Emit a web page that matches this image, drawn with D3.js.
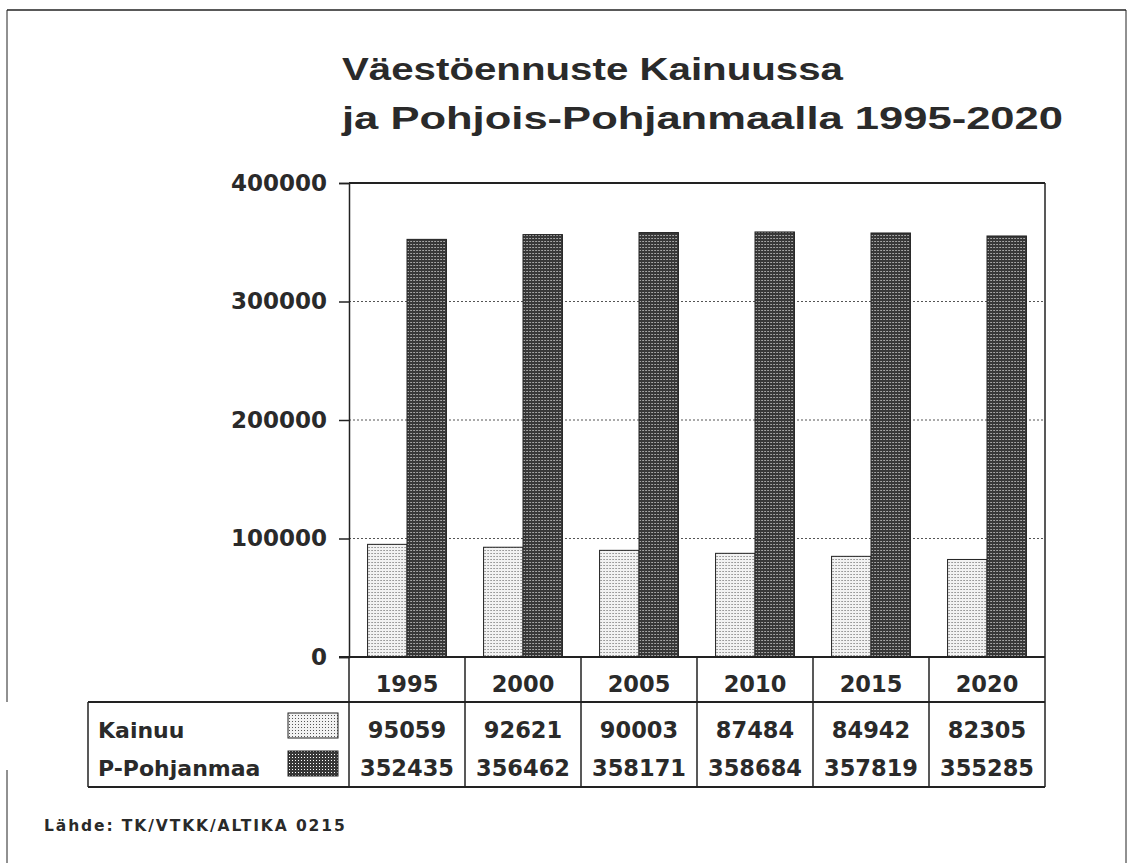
<!DOCTYPE html>
<html>
<head>
<meta charset="utf-8">
<script src="https://cdn.jsdelivr.net/npm/d3@7"></script>
<style>
  body { margin: 0; background: #fff; }
  svg text { fill: #2a2a2a; }
</style>
</head>
<body>
<svg id="chart" width="1128" height="863"></svg>
<script>
// data
const years = ['1995', '2000', '2005', '2010', '2015', '2020']
const kainuu = [95059, 92621, 90003, 87484, 84942, 82305]
const pohjanmaa = [352435, 356462, 358171, 358684, 357819, 355285]
const seriesNames = ['Kainuu', 'P-Pohjanmaa']
const yTicks = [0, 100000, 200000, 300000, 400000]
const titleLines = ['Väestöennuste Kainuussa', 'ja Pohjois-Pohjanmaalla 1995-2020']
const source = 'Lähde: TK/VTKK/ALTIKA 0215'

const svg = d3.select('#chart')
const ink = '#222'
const numFont = 'DejaVu Sans'

// fill patterns for the two series
const defs = svg.append('defs')
const light = defs.append('pattern').attr('id', 'pat-light')
  .attr('width', 3).attr('height', 3).attr('patternUnits', 'userSpaceOnUse')
light.append('rect').attr('width', 3).attr('height', 3).attr('fill', '#f2f2f2')
light.append('rect').attr('x', 1).attr('y', 1).attr('width', 1).attr('height', 1).attr('fill', '#555')
const dark = defs.append('pattern').attr('id', 'pat-dark')
  .attr('width', 3).attr('height', 3).attr('patternUnits', 'userSpaceOnUse')
dark.append('rect').attr('width', 3).attr('height', 3).attr('fill', '#383838')
dark.append('rect').attr('x', 1).attr('y', 1).attr('width', 1).attr('height', 1).attr('fill', '#fff')
const fills = ['url(#pat-light)', 'url(#pat-dark)']

// page frame (scanned sheet edges)
svg.append('line').attr('x1', 7).attr('x2', 1126).attr('y1', 10).attr('y2', 10)
  .attr('stroke', ink).attr('stroke-width', 1.5)
svg.append('line').attr('x1', 7).attr('x2', 7).attr('y1', 10).attr('y2', 702)
  .attr('stroke', ink).attr('stroke-width', 1)
svg.append('line').attr('x1', 7).attr('x2', 7).attr('y1', 770).attr('y2', 863)
  .attr('stroke', ink).attr('stroke-width', 1)
svg.append('line').attr('x1', 1126).attr('x2', 1126).attr('y1', 10).attr('y2', 863)
  .attr('stroke', ink).attr('stroke-width', 1)

// title
const titleWidths = [501, 721]
svg.selectAll('text.title')
  .data(titleLines)
  .enter()
  .append('text')
  .attr('class', 'title')
  .attr('x', 342)
  .attr('y', (d, i) => 80 + i * 49)
  .attr('textLength', (d, i) => titleWidths[i])
  .attr('lengthAdjust', 'spacingAndGlyphs')
  .style('font-family', 'Liberation Sans')
  .style('font-weight', 'bold')
  .style('font-size', '32px')
  .text(d => d)

// scales
const plotLeft = 349
const plotRight = 1045
const plotTop = 183
const plotBottom = 657

const x0 = d3.scaleBand().domain(years).range([plotLeft, plotRight])
  .paddingInner(0.32).paddingOuter(0.16)
const x1 = d3.scaleBand().domain(seriesNames).range([0, x0.bandwidth()])
const y = d3.scaleLinear().domain([0, 400000]).range([plotBottom, plotTop])

// grid lines
svg.append('g')
  .selectAll('line')
  .data(yTicks.filter(d => d > 0 && d < 400000))
  .enter()
  .append('line')
  .attr('x1', plotLeft).attr('x2', plotRight)
  .attr('y1', d => y(d)).attr('y2', d => y(d))
  .attr('stroke', '#555')
  .attr('stroke-dasharray', '2,2')

// bars
const rows = years.map((yr, i) => ({ year: yr, values: [kainuu[i], pohjanmaa[i]] }))
svg.append('g')
  .selectAll('g')
  .data(rows)
  .enter()
  .append('g')
  .attr('transform', d => `translate(${x0(d.year)},0)`)
  .selectAll('rect')
  .data(d => d.values.map((v, k) => ({ key: seriesNames[k], k: k, value: v })))
  .enter()
  .append('rect')
  .attr('x', d => x1(d.key))
  .attr('width', x1.bandwidth())
  .attr('y', d => y(d.value))
  .attr('height', d => y(0) - y(d.value))
  .attr('fill', d => fills[d.k])
  .attr('stroke', ink)
  .attr('stroke-width', 1)

// y axis
const yAxis = d3.axisLeft(y).tickValues(yTicks).tickSize(10).tickPadding(12).tickFormat(d3.format('d'))
const ya = svg.append('g').attr('transform', `translate(${plotLeft},0)`).call(yAxis)
ya.select('.domain').attr('stroke', ink).attr('stroke-width', 1.5)
ya.selectAll('.tick line').attr('stroke', ink).attr('stroke-width', 1.5)
ya.selectAll('.tick text')
  .style('font-family', numFont)
  .style('font-weight', 'bold')
  .style('font-size', '23px')
  .attr('fill', '#2a2a2a')

// plot frame: top and right
svg.append('line').attr('x1', plotLeft).attr('x2', plotRight).attr('y1', plotTop).attr('y2', plotTop)
  .attr('stroke', ink).attr('stroke-width', 2)
svg.append('line').attr('x1', plotRight).attr('x2', plotRight).attr('y1', plotTop).attr('y2', 787)
  .attr('stroke', ink).attr('stroke-width', 1.5)
// baseline
svg.append('line').attr('x1', plotLeft - 10).attr('x2', plotRight).attr('y1', plotBottom).attr('y2', plotBottom)
  .attr('stroke', ink).attr('stroke-width', 2)

// data table
const headBottom = 702
const tableBottom = 787
const tableLeft = 88
const table = svg.append('g')
table.append('line').attr('x1', tableLeft).attr('x2', plotRight).attr('y1', headBottom).attr('y2', headBottom)
  .attr('stroke', ink).attr('stroke-width', 2)
table.append('line').attr('x1', tableLeft).attr('x2', plotRight).attr('y1', tableBottom).attr('y2', tableBottom)
  .attr('stroke', ink).attr('stroke-width', 2)
table.append('line').attr('x1', tableLeft).attr('x2', tableLeft).attr('y1', headBottom).attr('y2', tableBottom)
  .attr('stroke', ink).attr('stroke-width', 1.5)

// column separators at band edges
const step = x0.step()
const edges = years.map(d => x0(d) - (step - x0.bandwidth()) / 2)
table.selectAll('line.sep')
  .data(edges)
  .enter()
  .append('line')
  .attr('class', 'sep')
  .attr('x1', d => d).attr('x2', d => d)
  .attr('y1', plotBottom).attr('y2', tableBottom)
  .attr('stroke', ink).attr('stroke-width', 1.5)

const cx = d => x0(d) + x0.bandwidth() / 2
const numStyle = sel => sel
  .attr('text-anchor', 'middle')
  .style('font-family', numFont)
  .style('font-weight', 'bold')
  .style('font-size', '22.5px')

table.selectAll('text.year')
  .data(years)
  .enter()
  .append('text')
  .attr('class', 'year')
  .attr('x', cx)
  .attr('y', 692)
  .call(numStyle)
  .text(d => d)

const rowBase = [738, 776]
const series = [kainuu, pohjanmaa]
series.forEach((vals, k) => {
  table.selectAll('text.v' + k)
    .data(vals)
    .enter()
    .append('text')
    .attr('class', 'v' + k)
    .attr('x', (d, i) => cx(years[i]))
    .attr('y', rowBase[k])
    .call(numStyle)
    .text(d => d)
})

// legend inside the table
const legend = table.selectAll('g.legend-element')
  .data(seriesNames)
  .enter()
  .append('g')
  .attr('class', 'legend-element')
legend.append('text')
  .attr('x', 98)
  .attr('y', (d, i) => rowBase[i])
  .style('font-family', numFont)
  .style('font-weight', 'bold')
  .style('font-size', '22px')
  .text(d => d)
legend.append('rect')
  .attr('x', 288)
  .attr('y', (d, i) => rowBase[i] - 25)
  .attr('width', 50)
  .attr('height', 25)
  .attr('fill', (d, i) => fills[i])
  .attr('stroke', ink)
  .attr('stroke-width', 1)

// source note
svg.append('text')
  .attr('x', 44)
  .attr('y', 831)
  .style('font-family', numFont)
  .style('font-weight', 'bold')
  .style('font-size', '15.5px')
  .style('letter-spacing', '1.9px')
  .text(source)
</script>
</body>
</html>
